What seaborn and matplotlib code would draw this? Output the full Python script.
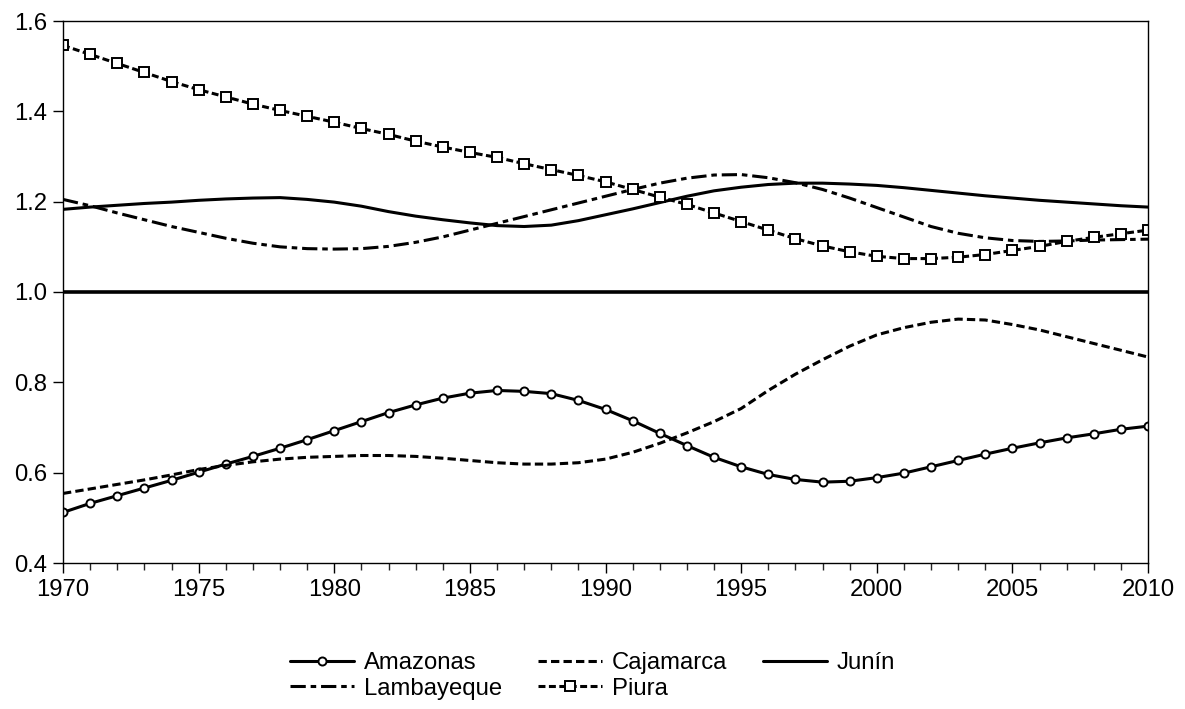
import numpy as np
import pandas as pd
import matplotlib
matplotlib.use("Agg")
import matplotlib.pyplot as plt
import seaborn as sns

years = list(range(1970, 2011))

amazonas = [0.512, 0.532, 0.549, 0.566, 0.583, 0.601, 0.619, 0.636, 0.654, 0.673,
            0.693, 0.713, 0.733, 0.750, 0.765, 0.776, 0.782, 0.780, 0.775, 0.760,
            0.740, 0.715, 0.687, 0.660, 0.634, 0.613, 0.596, 0.585, 0.579, 0.581,
            0.589, 0.599, 0.613, 0.627, 0.641, 0.654, 0.666, 0.677, 0.686, 0.696,
            0.703]
cajamarca = [0.554, 0.564, 0.574, 0.584, 0.595, 0.607, 0.616, 0.624, 0.630, 0.634,
             0.636, 0.638, 0.638, 0.636, 0.632, 0.627, 0.622, 0.619, 0.619, 0.622,
             0.630, 0.645, 0.665, 0.688, 0.713, 0.742, 0.782, 0.818, 0.850, 0.880,
             0.905, 0.921, 0.933, 0.940, 0.938, 0.928, 0.916, 0.901, 0.886, 0.871,
             0.856]
junin = [1.183, 1.188, 1.192, 1.196, 1.199, 1.203, 1.206, 1.208, 1.209, 1.205,
         1.199, 1.190, 1.178, 1.168, 1.160, 1.153, 1.147, 1.145, 1.148, 1.158,
         1.171, 1.184, 1.198, 1.212, 1.224, 1.232, 1.238, 1.241, 1.241, 1.239,
         1.236, 1.231, 1.225, 1.219, 1.213, 1.208, 1.203, 1.199, 1.195, 1.191,
         1.188]
lambayeque = [1.205, 1.191, 1.175, 1.160, 1.145, 1.132, 1.119, 1.108, 1.100, 1.096,
              1.095, 1.096, 1.101, 1.110, 1.122, 1.137, 1.152, 1.167, 1.182, 1.197,
              1.212, 1.227, 1.241, 1.252, 1.259, 1.260, 1.253, 1.242, 1.227, 1.208,
              1.187, 1.166, 1.145, 1.130, 1.120, 1.114, 1.112, 1.113, 1.115, 1.116,
              1.117]
piura = [1.546, 1.526, 1.506, 1.486, 1.466, 1.448, 1.432, 1.416, 1.402, 1.389,
         1.376, 1.362, 1.349, 1.334, 1.321, 1.309, 1.298, 1.284, 1.271, 1.258,
         1.244, 1.227, 1.210, 1.194, 1.175, 1.156, 1.137, 1.118, 1.102, 1.089,
         1.079, 1.074, 1.074, 1.077, 1.083, 1.092, 1.101, 1.112, 1.121, 1.129,
         1.137]
reference_level = 1.0

series_names = ["Amazonas", "Cajamarca", "Junín", "Lambayeque", "Piura"]
series_values = [amazonas, cajamarca, junin, lambayeque, piura]

df = pd.DataFrame({"year": years})
for n, v in zip(series_names, series_values):
    df[n] = v

sns.set_style("white")
plt.rcParams["font.family"] = ["Liberation Sans", "DejaVu Sans"]
plt.rcParams["lines.scale_dashes"] = False
plt.rcParams["text.color"] = "black"

fig = plt.figure(figsize=(11.85, 7.09), dpi=100)
ax = fig.add_axes([63 / 1185, 1 - 563 / 709, (1148 - 63) / 1185, (563 - 21) / 709])

lw = 2.2
styles = {
    "Amazonas": dict(dashes=False, marker="o", ms=5.8, mfc="white", mec="black", mew=1.4),
    "Cajamarca": dict(dashes=(6, 3)),
    "Junín": dict(dashes=False),
    "Lambayeque": dict(dashes=(11, 3.5, 4, 3.5)),
    "Piura": dict(dashes=(5, 2.5), marker="s", ms=6.5, mfc="white", mec="black", mew=1.4),
}

handles = {}
for n in series_names:
    st = dict(styles[n])
    d = st.pop("dashes")
    sns.lineplot(data=df, x="year", y=n, ax=ax, color="black", lw=lw, label=n, **st)
    line = ax.get_lines()[-1]
    if d:
        line.set_dashes(d)
    handles[n] = line

ax.axhline(reference_level, color="black", lw=2.6, zorder=1)

ax.set_xlim(1970, 2010)
ax.set_ylim(0.4, 1.6)
ax.set_xticks(range(1970, 2011, 5))
ax.set_xticks(range(1970, 2011), minor=True)
ax.set_yticks([0.4, 0.6, 0.8, 1.0, 1.2, 1.4, 1.6])
ax.set_yticklabels(["0.4", "0.6", "0.8", "1.0", "1.2", "1.4", "1.6"])
ax.set_xlabel("")
ax.set_ylabel("")
ax.tick_params(axis="both", which="major", direction="out", length=7.5, width=1,
               labelsize=17.2, colors="black", pad=4,
               bottom=True, left=True, top=False, right=False)
ax.tick_params(axis="x", which="minor", direction="out", length=5, width=1,
               bottom=True, top=False)
for s in ax.spines.values():
    s.set_visible(True)
    s.set_color("black")
    s.set_linewidth(1.0)

ax.get_legend().remove()
order = ["Amazonas", "Lambayeque", "Cajamarca", "Piura", "Junín"]
fig.legend([handles[o] for o in order], order, loc="center",
           bbox_to_anchor=(0.5, 1 - 676 / 709), ncol=3, frameon=False,
           fontsize=17.2, handlelength=2.7, handletextpad=0.4,
           columnspacing=1.5, labelspacing=0.15, numpoints=1)

fig.savefig("out.png", dpi=100)
